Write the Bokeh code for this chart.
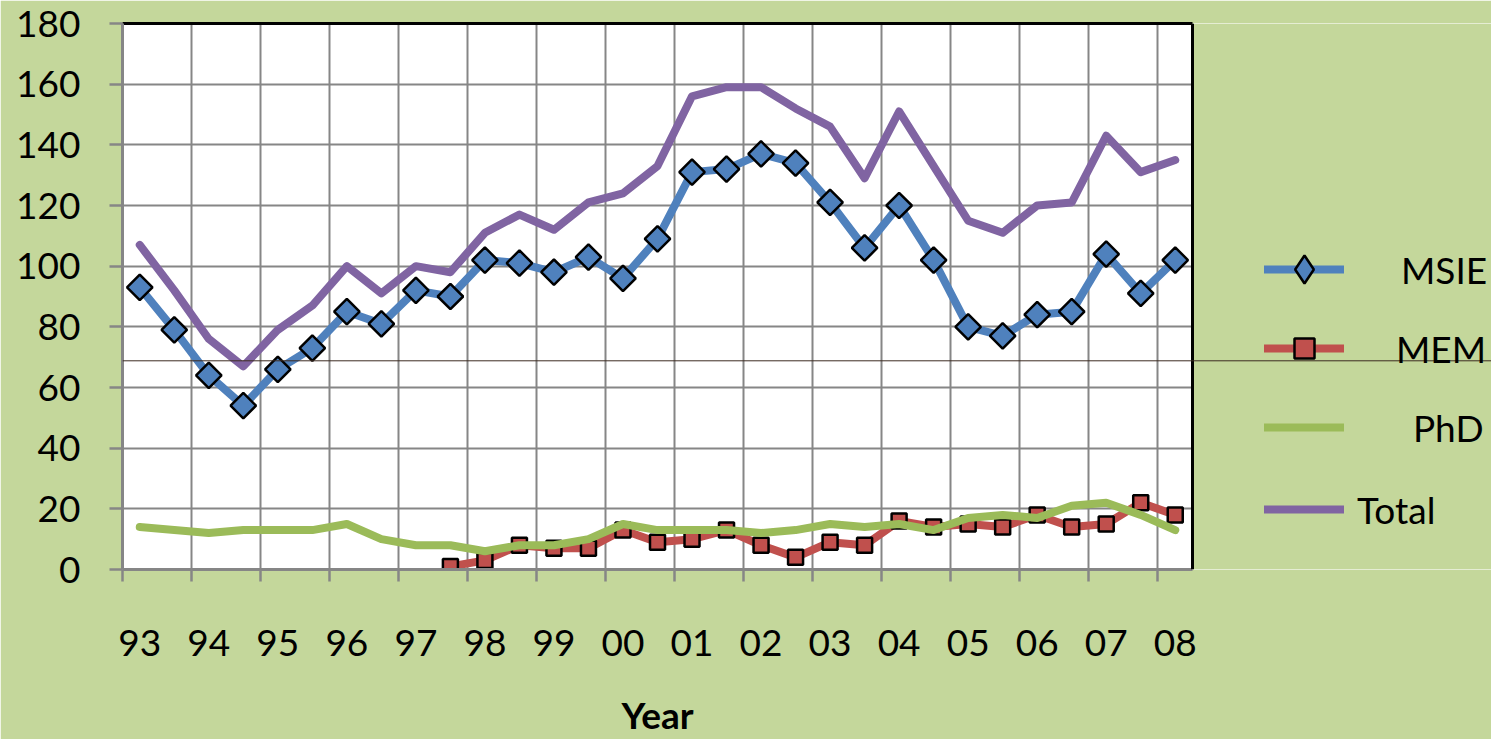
import math
from bokeh.plotting import figure
from bokeh.models import (FixedTicker, LinearAxis, Range1d, Span, Legend, LegendItem,
                          BoxAnnotation)
from bokeh.embed import file_html
from bokeh.resources import INLINE

# ---- data (half-year steps, 1993 .. 2008) ----
year_labels = ["93", "94", "95", "96", "97", "98", "99", "00",
               "01", "02", "03", "04", "05", "06", "07", "08"]
msie = [93, 79, 64, 54, 66, 73, 85, 81, 92, 90, 102, 101, 98, 103, 96, 109,
        131, 132, 137, 134, 121, 106, 120, 102, 80, 77, 84, 85, 104, 91, 102]
mem_start = 9
mem = [1, 3, 8, 7, 7, 13, 9, 10, 13, 8, 4, 9, 8, 16, 14, 15, 14, 18, 14, 15, 22, 18]
phd = [14, 13, 12, 13, 13, 13, 15, 10, 8, 8, 6, 8, 8, 10, 15, 13, 13, 13, 12, 13,
       15, 14, 15, 13, 17, 18, 17, 21, 22, 18, 13]
total = [107, 92, 76, 67, 79, 87, 100, 91, 100, 98, 111, 117, 112, 121, 124, 133,
         156, 159, 159, 152, 146, 129, 151, 133, 115, 111, 120, 121, 143, 131, 135]
series = ["MSIE", "MEM", "PhD", "Total"]
x_title = "Year"

n = len(msie)
x = list(range(n))
mem_x = x[mem_start:mem_start + len(mem)]

BG = "#C4D79B"
GRID = "#868686"
C_MSIE, C_MEM, C_PHD, C_TOT = "#4F81BD", "#C0504D", "#9BBB59", "#8064A2"
FONT = "Lato"
FS = "37px"

# layout (pixels): white plot area spans PLOT_L..PLOT_R; the frame continues to the
# right edge so that the legend can live in it
W, H = 1491, 739
PLOT_L, PLOT_R, PLOT_T, PLOT_B = 122, 1192, 23, 570
x_end = -0.5 + n * (W - PLOT_L) / (PLOT_R - PLOT_L)

p = figure(width=W, height=H, output_backend="svg", toolbar_location=None,
           x_range=Range1d(-0.5, x_end), y_range=Range1d(0, 180),
           background_fill_color="white", border_fill_color=BG,
           outline_line_color=None,
           min_border_left=PLOT_L, min_border_top=PLOT_T, min_border_right=0,
           min_border_bottom=H - PLOT_B)

# x axis: year labels under every second point, ticks on category boundaries
label_pos = list(range(0, n, 2))
bounds = [i - 0.5 for i in label_pos]
xa = p.xaxis[0]
xa.bounds = (-0.5, n - 0.5)
xa.ticker = FixedTicker(ticks=label_pos, minor_ticks=bounds)
xa.major_label_overrides = {i: year_labels[k] for k, i in enumerate(label_pos)}
xa.major_tick_line_color = None
xa.major_tick_out = 0
xa.major_tick_in = 0
xa.minor_tick_line_color = GRID
xa.minor_tick_line_width = 2.5
xa.minor_tick_out = 12
xa.minor_tick_in = 0
xa.axis_line_color = GRID
xa.axis_line_width = 3
xa.major_label_standoff = 48
xa.major_label_text_font = FONT
xa.major_label_text_font_size = FS
xa.major_label_text_color = "black"

# axis title "Year", centred under the plot area (not under the legend)
centre = (n - 1) / 2
title_ax = LinearAxis(ticker=FixedTicker(ticks=[centre]),
                      major_label_overrides={centre: x_title},
                      axis_line_color=None, major_tick_line_color=None,
                      minor_tick_line_color=None, major_tick_out=0, major_tick_in=0,
                      major_label_standoff=33, major_label_text_font=FONT,
                      major_label_text_font_size=FS, major_label_text_font_style="bold",
                      major_label_text_color="black")
p.add_layout(title_ax, "below")

ya = p.yaxis[0]
ya.ticker = FixedTicker(ticks=list(range(0, 181, 20)))
ya.major_tick_out = 13
ya.major_tick_in = 0
ya.major_tick_line_color = GRID
ya.major_tick_line_width = 2.5
ya.minor_tick_line_color = None
ya.axis_line_color = GRID
ya.axis_line_width = 3
ya.major_label_standoff = 29
ya.major_label_text_font = FONT
ya.major_label_text_font_size = FS
ya.major_label_text_color = "black"

p.xgrid.ticker = FixedTicker(ticks=bounds)
p.xgrid.grid_line_color = GRID
p.xgrid.grid_line_width = 2
p.ygrid.grid_line_color = GRID
p.ygrid.grid_line_width = 2

# legend area to the right of the plot: same green as the border, over the grid
p.add_layout(BoxAnnotation(left=n - 0.5, fill_color=BG, fill_alpha=1.0,
                           line_color=None, level="underlay"))

# black frame line on top and right of the plot area
top_ax = LinearAxis(ticker=FixedTicker(ticks=[]), axis_line_color="black", axis_line_width=3,
                    major_tick_line_color=None, minor_tick_line_color=None,
                    major_label_text_font_size="0px", bounds=(-0.5, n - 0.5))
p.add_layout(top_ax, "above")
p.add_layout(Span(location=n - 0.5, dimension="height", line_color="black",
                  line_width=3, level="overlay"))

LW = 8
r_msie_l = p.line(x, msie, line_color=C_MSIE, line_width=LW, line_join="round", line_cap="round")
r_msie_m = p.scatter(x, msie, marker="square", angle=math.pi / 4, size=18,
                     fill_color=C_MSIE, line_color="black", line_width=2.5)
r_mem_l = p.line(mem_x, mem, line_color=C_MEM, line_width=LW, line_join="round", line_cap="round")
r_mem_m = p.scatter(mem_x, mem, marker="square", size=15,
                    fill_color=C_MEM, line_color="black", line_width=2.5)
r_phd = p.line(x, phd, line_color=C_PHD, line_width=LW, line_join="round", line_cap="round")
r_tot = p.line(x, total, line_color=C_TOT, line_width=LW, line_join="round", line_cap="round")
# legend key for MSIE: a diamond (the plotted diamonds are rotated squares); hidden in plot
r_msie_key = p.scatter(x, msie, marker="diamond", size=28, visible=False,
                       fill_color=C_MSIE, line_color="black", line_width=2.5)

p.add_layout(Span(location=68.8, dimension="width", line_color="#3d2b22",
                  line_width=1, level="overlay"))

# legend: one block per entry so each label sits where the original puts it
# (location = offset of block's bottom-left from the frame's bottom-left, px)
LEG_X = 1264
entries = [
    (series[0], [r_msie_l, r_msie_key], (LEG_X - PLOT_L, PLOT_B - 305), 70, 57),
    (series[1], [r_mem_l, r_mem_m], (LEG_X - PLOT_L, PLOT_B - 374), 50, 52),
    (series[2], [r_phd], (LEG_X - PLOT_L, PLOT_B - 453), 50, 69),
    (series[3], [r_tot], (LEG_X - PLOT_L, PLOT_B - 535), 50, 13),
]
for label, rends, loc, gh, standoff in entries:
    lg = Legend(items=[LegendItem(label=label, renderers=rends)], location=loc,
                glyph_width=80, glyph_height=gh, padding=0, margin=0, spacing=0,
                label_standoff=standoff, label_text_font=FONT, label_text_font_size=FS,
                label_text_color="black", background_fill_alpha=0, border_line_color=None,
                inactive_fill_alpha=0)
    p.add_layout(lg)

open("out.html", "w").write(file_html(p, INLINE))
